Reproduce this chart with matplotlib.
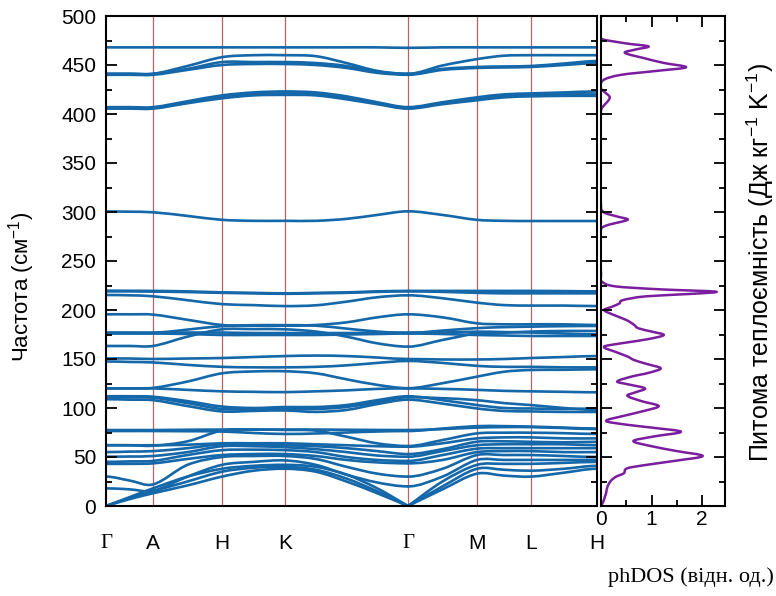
import matplotlib.pyplot as plt
from matplotlib.path import Path
from matplotlib.patches import PathPatch
from matplotlib.ticker import MultipleLocator

plt.rcParams['font.family'] = ['Liberation Sans', 'DejaVu Sans']
plt.rcParams['mathtext.fontset'] = 'custom'
plt.rcParams['mathtext.rm'] = 'Liberation Sans'
plt.rcParams['mathtext.it'] = 'Liberation Sans:italic'

# high-symmetry path (distance along path, arbitrary units)
hs_pos = [0, 47, 116, 179, 302, 371, 425, 491]
hs_labels = ["Γ", "A", "H", "K", "Γ", "M", "L", "H"]

# sample points: high-symmetry points plus points inside each segment
k_grid = [0, 23.5, 47, 81.5, 116, 147.5, 179, 209.75, 240.5, 271.25,
          302, 336.5, 371, 398, 425, 458, 491]
GAMMA_IDX = 10  # the middle Γ point, where acoustic branches have a kink

# phonon branches (cm^-1) at k_grid
bands_high = [
    [468, 468, 468, 468, 468, 468, 468, 468, 468, 468, 467.5, 468, 468, 468, 468, 468, 468],
    [441, 441, 441, 449, 458, 460, 460, 459, 452, 444, 441, 449.5, 456, 459.5, 460, 460, 460],
    [441, 441, 441, 446, 453, 453, 453, 452, 449, 443, 441, 446, 448, 448.5, 449, 451.5, 454],
    [440, 440, 440, 445, 450, 451, 451, 450, 447, 442, 440, 445, 447, 447.5, 448, 450, 452],
    [407, 407, 407, 413, 419, 422, 423, 422, 418, 412, 407, 412, 417, 420, 421, 422, 423],
    [406, 406, 406, 412, 417, 420, 421, 420, 416, 411, 406, 411, 415, 418, 419.5, 420, 420],
    [405.5, 405.5, 405.5, 411, 416, 419, 419.5, 419, 415, 410, 405.5, 410, 414, 417, 418, 418.5, 418.5],
    [300.5, 300.3, 299.7, 296, 292, 291, 291, 291, 293, 297, 300.7, 297, 292, 291, 290.8, 290.8, 290.8],
]

bands_mid = [
    [219.7, 219.6, 219.5, 219, 218, 217.5, 217, 217.5, 218, 219, 219.5, 219.5, 219.5, 219.5, 219.5, 219.3, 219],
    [219, 219, 218.8, 218.3, 217.5, 217, 216.5, 217, 217.5, 218.5, 219, 218.5, 217.5, 217, 217, 217, 217],
    [215.3, 215, 214, 210, 206, 205, 204, 204.8, 208.5, 213, 215, 212, 207.5, 205, 204.5, 204.5, 204],
    [195.6, 195.6, 195.3, 190, 184.7, 184, 184, 184.7, 187.4, 192.5, 195.6, 192.5, 186.4, 185.4, 185.4, 185.4, 184.7],
    [176, 176, 176, 175.5, 174.5, 174.5, 174.5, 174.5, 175, 175.5, 176, 175.5, 174.5, 174, 173.5, 173.5, 173.5],
    [176.5, 176.5, 176.5, 180, 183.5, 184.5, 184.5, 184, 181, 178, 176.5, 179, 181.5, 182.5, 183, 183.5, 183.7],
    [177, 177, 177, 177, 177, 176.5, 176.5, 176.5, 176.5, 176.8, 177, 177, 177.9, 177.5, 177, 176, 175.2],
    [163.3, 163.3, 163.3, 172.8, 180.3, 180.5, 180.3, 178, 172.8, 166, 162.6, 169.4, 176, 176.8, 178, 178.6, 178.6],
    [150.5, 150.5, 150, 150.5, 151, 152, 153, 153.5, 153, 151.5, 150, 149.5, 149.5, 150, 151, 152, 153],
    [147.5, 147, 146.5, 144, 142, 141.5, 141.5, 142, 143.5, 146, 148, 146, 143, 142, 142, 141.5, 141.5],
    [120, 120, 120.5, 127, 135.4, 137.3, 137.5, 135.4, 129.3, 123.6, 120.2, 125.3, 132, 137, 138.8, 139, 139.5],
    [120, 120, 120, 118.5, 117, 116.5, 116.2, 117, 118, 119.5, 120, 119.5, 118.5, 117.5, 117, 116.5, 116],
    [112, 112, 111.5, 107, 101.5, 100, 101, 101, 103, 108, 112, 108, 103, 100, 99.5, 99, 99.5],
    [111, 110.8, 110.5, 105, 99, 99, 99, 99, 101, 106, 111, 110, 108, 105, 103, 100, 98],
    [109, 108.5, 108, 102, 96.5, 97, 97.5, 96, 98, 104, 108.5, 104.5, 99.5, 97, 96.5, 96, 96],
]

bands_low = [
    [77.5, 77.5, 77.5, 77.8, 78, 78, 78, 78, 77.8, 77.6, 77.5, 78.5, 80, 80.5, 80.5, 79.5, 78.5],
    [76.5, 76.5, 76.5, 76.3, 76, 74.5, 73.5, 74, 75, 76, 76.5, 79, 81.5, 81.5, 81, 80, 79],
    [62, 62, 61.5, 66, 77, 78, 77.6, 76.9, 70.7, 63.9, 61.2, 67.3, 74.1, 74.8, 74.8, 74.3, 73.5],
    [62, 62, 62, 62.5, 64, 64, 64, 63, 62, 61, 60.5, 64, 69, 70, 70, 69, 69],
    [55, 55.5, 56, 59, 63, 63, 62, 61, 59, 56, 53, 58, 65.6, 66, 65.5, 65, 65.5],
    [50.3, 50.5, 51, 55, 61, 61, 60, 58, 55, 51.5, 50.3, 56, 62, 63, 63, 63, 62],
    [45, 45.5, 46, 52, 57, 57.5, 57, 55, 50, 47, 46, 52, 58.5, 59, 59, 59, 59],
    [43, 43, 43.5, 48, 52, 53, 53, 51, 47, 44.5, 43.5, 47, 55, 56, 56, 55, 55],
    [30, 26, 22, 42, 50, 51, 51, 48, 40, 33, 30, 38, 52, 52, 52, 51, 50],
    [18, 17, 15.5, 30, 42, 45, 46.5, 42, 32, 24, 20, 30, 47, 47, 47, 47, 47],
    [0, 9, 18, 30, 38, 41, 42, 40, 32, 18, 0, 25, 42, 43, 43, 44, 45],
    [0, 8, 15, 25, 35, 39, 40, 37, 28, 15, 0, 20, 38, 37, 36, 38, 41],
    [0, 7, 13, 21, 30, 36, 38, 35, 25, 13, 0, 17, 33, 31, 30, 34, 38],
]

# phonon density of states (relative units) vs frequency
dos_freq = [0, 5, 10, 13, 20, 26, 30, 33.3, 38.5, 42, 46, 51, 56, 61, 66.3, 71, 75.8,
            80, 83, 86.7, 92, 97, 102, 107, 112.6, 116, 120, 124, 126.9, 132, 136,
            140.5, 145, 149, 152.4, 157, 162.6, 166, 170, 174.5, 178, 181.3, 185,
            189.8, 195, 200, 203, 206.6, 210, 214, 216.5, 218.7, 221, 224, 228.9,
            235, 283, 287, 290, 292.5, 295, 299, 304, 404, 410, 414, 417.7, 422,
            426, 434.7, 440, 444, 447.6, 452, 457, 462.6, 466, 469, 472, 477, 500]
dos_val = [0, 0.05, 0.08, 0.1, 0.13, 0.2, 0.3, 0.45, 0.52, 0.9, 1.45, 2.01, 1.5, 1.0,
           0.64, 1.05, 1.58, 1.0, 0.5, 0.1, 0.45, 0.85, 1.14, 0.8, 0.52, 0.68, 0.87,
           0.55, 0.32, 0.6, 0.95, 1.18, 0.9, 0.65, 0.53, 0.3, 0.06, 0.4, 0.9, 1.24,
           1.0, 0.74, 0.65, 0.5, 0.25, 0.06, 0.2, 0.36, 0.43, 0.9, 1.8, 2.27, 1.2,
           0.3, 0.02, 0, 0, 0.15, 0.4, 0.53, 0.35, 0.08, 0, 0, 0.08, 0.15, 0.17,
           0.08, 0, 0.05, 0.4, 1.1, 1.68, 1.25, 0.85, 0.47, 0.7, 0.94, 0.5, 0, 0]

BAND_COLOR = "#1467a8"
LINE_COLOR = "#a83c3c"
DOS_COLOR = "#7a1d9e"


def smooth_path(xs, ys, swap=False):
    """Bezier path through the points (flat ends for optical, straight for acoustic).
    With swap=True the curve is drawn as (ys, xs), i.e. xs runs vertically."""
    n = len(xs)
    slopes = []
    for i in range(n):
        if 0 < i < n - 1:
            slopes.append((ys[i + 1] - ys[i - 1]) / (xs[i + 1] - xs[i - 1]))
        elif ys[i] > 0:
            slopes.append(0.0)
        elif i == 0:
            slopes.append((ys[1] - ys[0]) / (xs[1] - xs[0]))
        else:
            slopes.append((ys[-1] - ys[-2]) / (xs[-1] - xs[-2]))
    pts = [(xs[0], ys[0])]
    codes = [Path.MOVETO]
    for i in range(n - 1):
        d = (xs[i + 1] - xs[i]) / 3
        pts += [(xs[i] + d, ys[i] + slopes[i] * d),
                (xs[i + 1] - d, ys[i + 1] - slopes[i + 1] * d),
                (xs[i + 1], ys[i + 1])]
        codes += [Path.CURVE4] * 3
    if swap:
        pts = [(b, a) for a, b in pts]
    return Path(pts, codes)


fig = plt.figure(figsize=(7.76, 5.96), dpi=100)
ax = fig.add_axes([106 / 776, 90 / 596, 491 / 776, 490 / 596])
ax_dos = fig.add_axes([601 / 776, 90 / 596, 124 / 776, 490 / 596])

# dispersion, drawn in two pieces split at the middle Γ
for band in bands_high + bands_mid + bands_low:
    for sl in (slice(0, GAMMA_IDX + 1), slice(GAMMA_IDX, None)):
        path = smooth_path(k_grid[sl], band[sl])
        ax.add_patch(PathPatch(path, fill=False, edgecolor=BAND_COLOR, lw=1.9,
                               capstyle="round", joinstyle="round"))

for x in hs_pos[1:-1]:
    ax.axvline(x, color=LINE_COLOR, lw=0.9, alpha=0.8, zorder=0)

ax.set_xlim(hs_pos[0], hs_pos[-1])
ax.set_ylim(0, 500)
ax.set_xticks(hs_pos)
ax.set_xticklabels(hs_labels, fontsize=15)
for lab in ax.get_xticklabels():
    if lab.get_text() == "Γ":
        lab.set_family("Liberation Serif")
ax.yaxis.set_major_locator(MultipleLocator(50))
ax.yaxis.set_minor_locator(MultipleLocator(25))
ax.tick_params(axis="x", length=0, pad=20)
ax.tick_params(axis="y", which="both", direction="in", left=True, right=True,
               width=1.3, labelsize=15, pad=7)
ax.tick_params(axis="y", which="major", length=8)
ax.tick_params(axis="y", which="minor", length=4)
for sp in ax.spines.values():
    sp.set_linewidth(1.5)

# phDOS panel
ax_dos.add_patch(PathPatch(smooth_path(dos_freq, dos_val, swap=True), fill=False,
                           edgecolor=DOS_COLOR, lw=1.8, joinstyle="round"))
ax_dos.set_xlim(0, 2.45)
ax_dos.set_ylim(0, 500)
ax_dos.xaxis.set_major_locator(MultipleLocator(1))
ax_dos.xaxis.set_minor_locator(MultipleLocator(0.5))
ax_dos.yaxis.set_major_locator(MultipleLocator(50))
ax_dos.yaxis.set_minor_locator(MultipleLocator(25))
ax_dos.tick_params(which="both", direction="in", top=True, right=True, left=True,
                   width=1.3, labelsize=15, labelleft=False, pad=3)
ax_dos.tick_params(which="major", length=8)
ax_dos.tick_params(which="minor", length=4)
for sp in ax_dos.spines.values():
    sp.set_linewidth(1.5)

fig.text(22 / 776, 1 - 287 / 596, "Частота (см$^{-1}$)", rotation=90,
         ha="center", va="center", fontsize=16)
fig.text(760 / 776, 1 - 262 / 596, "Питома теплоємність (Дж кг$^{-1}$ K$^{-1}$)",
         rotation=90, ha="center", va="center", fontsize=18)
fig.text(774 / 776, 1 - 577 / 596, "phDOS (відн. од.)", ha="right", va="center",
         fontsize=16, family="Liberation Serif")

fig.savefig("out.png", dpi=100)
